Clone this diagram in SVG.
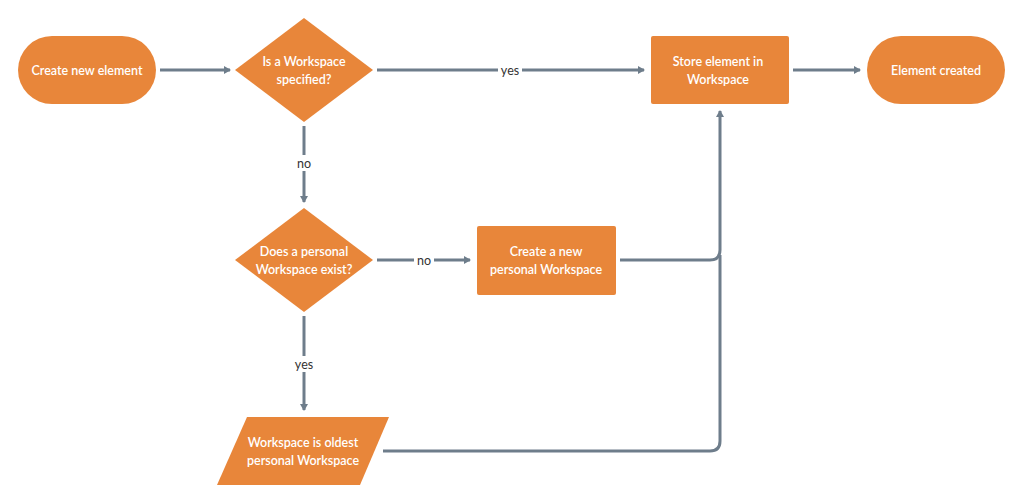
<svg xmlns="http://www.w3.org/2000/svg" width="1024" height="504" viewBox="0 0 1024 504">
<style>
.n{fill:#E8863A}
.t{font-family:"Lato","Liberation Sans",sans-serif;font-size:12.5px;font-weight:600;fill:#fff;text-anchor:middle}
.c{stroke:#6E7D8B;stroke-width:3;fill:none}
.l{font-family:"Lato","Liberation Sans",sans-serif;font-size:12.5px;fill:#333;text-anchor:middle}
</style>
<defs><marker id="a" markerWidth="8" markerHeight="8" refX="6" refY="4" orient="auto" markerUnits="userSpaceOnUse"><path d="M0,0 L7,4 L0,8 Z" fill="#6E7D8B"/></marker></defs>
<rect width="1024" height="504" fill="#fff"/>
<g id="connectors">
<path class="c" d="M160,70 H230" marker-end="url(#a)"/>
<path class="c" d="M377,70 H644" marker-end="url(#a)"/>
<rect x="498" y="62" width="24" height="16" fill="#fff"/><text class="l" x="510" y="75">yes</text>
<path class="c" d="M793,70 H860" marker-end="url(#a)"/>
<path class="c" d="M304,126 V202" marker-end="url(#a)"/>
<rect x="294" y="155" width="20" height="16" fill="#fff"/><text class="l" x="304" y="168">no</text>
<path class="c" d="M377,260 H470" marker-end="url(#a)"/>
<rect x="414" y="252" width="20" height="16" fill="#fff"/><text class="l" x="424" y="265">no</text>
<path class="c" d="M620,260 H710 Q720,260 720,250 V111" marker-end="url(#a)"/>
<path class="c" d="M304,316 V410" marker-end="url(#a)"/>
<rect x="292" y="356" width="24" height="16" fill="#fff"/><text class="l" x="304" y="369">yes</text>
<path class="c" d="M383,451 H710 Q720,451 720,441 V255"/>
</g>
<g id="start"><rect class="n" x="18" y="36" width="138" height="68" rx="34"/><text class="t" x="87" y="75">Create new element</text></g>
<g id="d1"><polygon class="n" points="304,18 373,70 304,122 235,70"/><text class="t" x="304" y="66">Is a Workspace</text><text class="t" x="304" y="84">specified?</text></g>
<g id="store"><rect class="n" x="651" y="36" width="138" height="68" rx="2"/><text class="t" x="718" y="66">Store element in</text><text class="t" x="718" y="84">Workspace</text></g>
<g id="end"><rect class="n" x="867" y="36" width="138" height="68" rx="34"/><text class="t" x="936" y="75">Element created</text></g>
<g id="d2"><polygon class="n" points="304,208 373,260 304,312 235,260"/><text class="t" x="304" y="256">Does a personal</text><text class="t" x="304" y="274">Workspace exist?</text></g>
<g id="create"><rect class="n" x="477" y="226" width="139" height="69" rx="2"/><text class="t" x="546" y="256">Create a new</text><text class="t" x="546" y="274">personal Workspace</text></g>
<g id="oldest"><polygon class="n" points="247,417 389,417 360,485 217,485"/><text class="t" x="303" y="447">Workspace is oldest</text><text class="t" x="303" y="465">personal Workspace</text></g>
</svg>
